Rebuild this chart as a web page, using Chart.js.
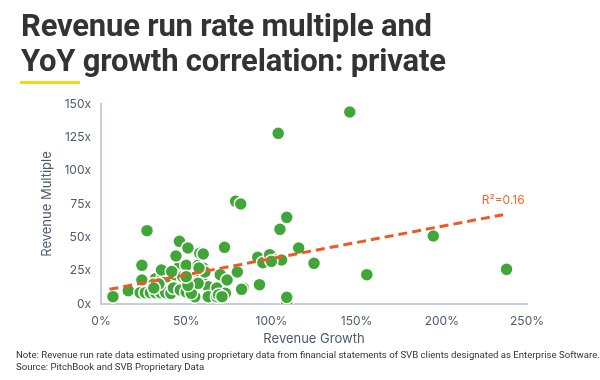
<!DOCTYPE html>
<html>
<head>
<meta charset="utf-8">
<script src="https://cdn.jsdelivr.net/npm/chart.js@4.4.1/dist/chart.umd.min.js"></script>
<style>
  html, body { margin:0; padding:0; background:#fff; }
  #wrap { position:relative; width:600px; height:380px; overflow:hidden; }
  #title { position:absolute; left:21px; top:8px; font-family:Roboto, "Noto Sans", sans-serif; font-weight:700; font-size:31px; line-height:35px; color:#333333; letter-spacing:-0.2px; white-space:nowrap; }
  #bar { position:absolute; left:20px; top:81px; width:60px; height:3px; background:#f2da1a; }
  #note { position:absolute; left:16px; top:349px; font-family:Roboto, "Noto Sans", sans-serif; font-size:9.6px; line-height:12px; color:#333; white-space:nowrap; }
  canvas { position:absolute; left:0; top:0; }
</style>
</head>
<body>
<div id="wrap">
  <canvas id="c" width="600" height="380"></canvas>
  <div id="title">Revenue run rate multiple and<br>YoY growth correlation: private</div>
  <div id="bar"></div>
  <div id="note">Note: Revenue run rate data estimated using proprietary data from financial statements of SVB clients designated as Enterprise Software.<br>Source: PitchBook and SVB Proprietary Data</div>
</div>
<script>
// Revenue growth (%) of each company
const growth = [
  7, 16, 24, 24, 23, 26, 29, 32, 35, 38, 41, 32, 36, 38.5, 31, 34, 36, 40.5, 43.5, 31,
  46, 50, 57, 60, 43.5, 48, 52, 58, 60, 70, 63, 68, 42.5, 46.5, 50, 63, 68, 73, 55, 53,
  57, 51, 69, 71, 83.5, 74, 61, 57.5, 35.5, 41.5, 50, 27, 46, 51, 44, 58, 60, 72.5,
  79, 82, 80, 82.5, 93, 92, 95, 99, 103, 106, 100, 109, 109, 105, 116, 125, 104, 146,
  195, 156, 238, 109
];
// Revenue run rate multiple (x) of each company
const multiple = [
  5.5, 10, 29, 18, 8.5, 8.5, 8.5, 8.5, 8.5, 8.5, 8, 19, 19, 20.5, 15, 15, 26.5, 24, 25.5, 12,
  28, 29, 29, 27, 22, 20.5, 18, 18, 15.5, 22, 13, 12, 12, 10.5, 9, 5.5, 5.5, 8, 5.5, 8,
  15.5, 14, 7, 5.5, 12, 18, 24, 27, 25.5, 24.3, 20.5, 55, 47, 42, 36, 38, 37.5, 42.5,
  77, 75, 24, 11, 14.5, 35, 31, 37, 33, 33, 32, 0.5, 65, 56, 42, 30.5, 128, 144,
  51, 22, 26, 5
];
// Linear trend line endpoints
const trendX = [5, 236];
const trendY = [11, 67];
const trendLabel = 'R\u00B2=0.16';
const xTicks = [0, 50, 100, 150, 200, 250];
const yTicks = [0, 25, 50, 75, 100, 125, 150];

const points = growth.map((g, i) => ({ x: g, y: multiple[i] }));
const trend = trendX.map((x, i) => ({ x: x, y: trendY[i] }));

const axisColor = '#c5ceda';
const tickColor = '#4d5b6b';

const labelPlugin = {
  id: 'trendLabel',
  afterDatasetsDraw(chart) {
    const { ctx, scales } = chart;
    const px = scales.x.getPixelForValue(trendX[1]);
    const py = scales.y.getPixelForValue(trendY[1]);
    ctx.save();
    ctx.font = '12px Inter, sans-serif';
    ctx.fillStyle = '#ee6a2c';
    ctx.textAlign = 'center';
    ctx.textBaseline = 'middle';
    ctx.fillText(trendLabel, px, py - 14);
    ctx.restore();
  }
};

new Chart(document.getElementById('c'), {
  type: 'scatter',
  data: {
    datasets: [
      {
        type: 'line',
        data: trend,
        borderColor: '#ee5a24',
        borderWidth: 3,
        borderDash: [9, 5],
        pointRadius: 0,
        fill: false,
        order: 0
      },
      {
        data: points,
        backgroundColor: '#3fa637',
        borderColor: '#ffffff',
        borderWidth: 1.5,
        pointRadius: 6.5,
        order: 1
      }
    ]
  },
  options: {
    responsive: false,
    animation: false,
    events: [],
    layout: { padding: { left: 35, top: 104, right: 73, bottom: 29 } },
    plugins: { legend: { display: false }, tooltip: { enabled: false } },
    scales: {
      x: {
        type: 'linear', min: 0, max: 250,
        afterBuildTicks(s) { s.ticks = xTicks.map(v => ({ value: v })); },
        afterFit(s) { s.height = 47; },
        grid: { display: false, drawTicks: false },
        border: { display: true, color: axisColor, width: 2 },
        ticks: { color: tickColor, font: { family: 'Inter', size: 12 }, padding: 10, callback: v => v + '%' },
        title: { display: true, text: 'Revenue Growth', color: tickColor, font: { family: 'Inter', size: 13 } }
      },
      y: {
        type: 'linear', min: 0, max: 150,
        afterBuildTicks(s) { s.ticks = yTicks.map(v => ({ value: v })); },
        afterFit(s) { s.width = 66; },
        grid: { display: false, drawTicks: false },
        border: { display: true, color: axisColor, width: 2 },
        ticks: { color: tickColor, font: { family: 'Inter', size: 12 }, padding: 10, callback: v => v + 'x' },
        title: { display: true, text: 'Revenue Multiple', color: tickColor, font: { family: 'Inter', size: 13 } }
      }
    }
  },
  plugins: [labelPlugin]
});
</script>
</body>
</html>
